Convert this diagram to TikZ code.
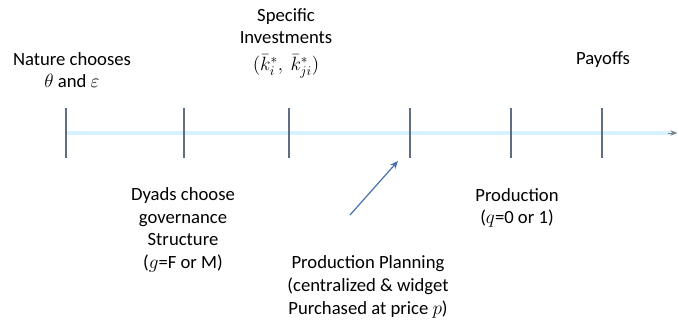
\documentclass[tikz,border=0pt]{standalone}
\usepackage{amsmath,amssymb}
\usepackage{fontspec}
\setmainfont{Carlito}
\usetikzlibrary{arrows.meta,positioning}
\definecolor{tickgray}{RGB}{95,110,128}
\definecolor{axisblue}{RGB}{215,242,255}
\definecolor{pointblue}{RGB}{70,110,175}

\begin{document}
\begin{tikzpicture}[x=0.75pt,y=-0.75pt,
    lbl/.style={align=center,inner sep=0pt,font=\fontsize{14}{17}\selectfont},
    tickmark/.style={draw=tickgray,line width=1.2pt},
    axisline/.style={draw=axisblue,line width=2.8pt}]
    \useasboundingbox (0,0) rectangle (679,320);

    % Time axis
    \coordinate (start) at (66,133);
    \coordinate (stop) at (677,133);
    \draw[axisline] (start) -- (stop);
    \draw[-{Stealth[length=5pt,width=4pt]},gray,line width=0.6pt] (668,133) -- (stop);

    % Ticks
    \foreach \x/\n in {66/t1,184/t2,289/t3,410/t4,511/t5,602/t6} {
        \coordinate (\n top) at (\x,108);
        \coordinate (\n bot) at (\x,158);
        \draw[tickmark] (\n top) -- (\n bot);
    }

    % Stages above the axis
    \node[lbl] (nature) at (72,70) {Nature chooses\\$\theta$ and $\varepsilon$};
    \node[lbl] (invest) at (286,43) {Specific\\Investments\\[3pt]$(\bar{k}_{i}^{*},\ \bar{k}_{ji}^{*})$};
    \node[lbl] (payoff) at (603,60) {Payoffs};

    % Stages below the axis
    \node[lbl] (govern) at (183,230) {Dyads choose\\governance\\Structure\\($g$=F or M)};
    \node[lbl] (plan) at (368,287) {Production Planning\\(centralized \& widget\\Purchased at price $p$)};
    \node[lbl] (prod) at (517,208) {Production\\($q$=0 or 1)};

    % Pointer to the planning stage
    \coordinate (ptail) at (350,215);
    \coordinate (phead) at (398,161);
    \draw[-{Stealth[length=6pt,width=5pt]},pointblue,line width=0.9pt] (ptail) -- (phead);
\end{tikzpicture}
\end{document}
